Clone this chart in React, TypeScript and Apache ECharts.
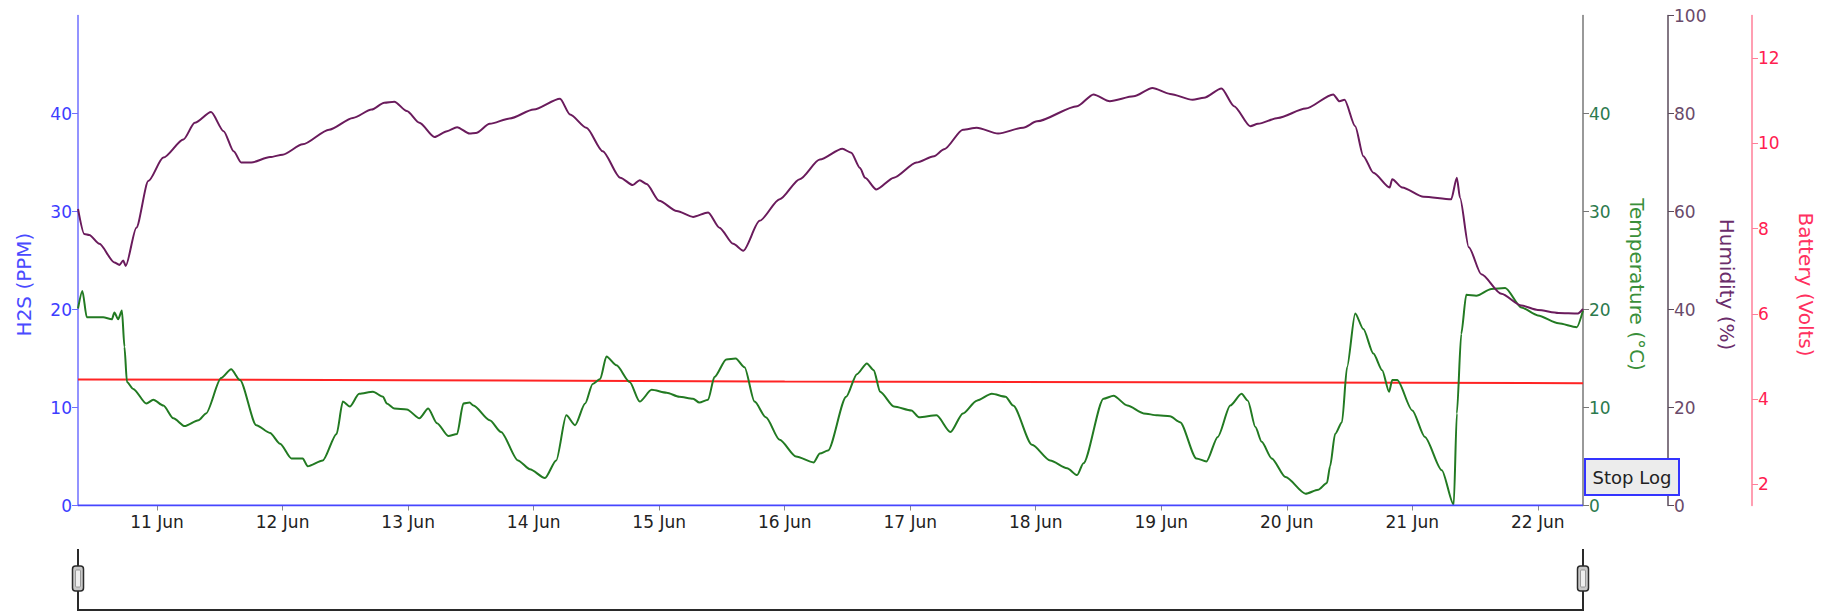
import React, { useEffect, useRef } from "react";
import * as echarts from "echarts";

// Day-of-June ticks on the time axis
const dayTicks = [11, 12, 13, 14, 15, 16, 17, 18, 19, 20, 21, 22];
const batteryTicks = [2, 4, 6, 8, 10, 12];

// [day of June (fractional), value]
const humidity: [number, number][] = [
  [10.37, 60.5], [10.42, 55.4], [10.46, 55.2], [10.54, 53.4], [10.66, 49.6], [10.7, 49.1],
  [10.73, 50.0], [10.75, 48.9], [10.835, 56.7], [10.93, 66.2], [11.05, 71.0], [11.21, 74.7],
  [11.3, 78.1], [11.43, 80.3], [11.53, 76.4], [11.61, 72.3], [11.67, 70.0], [11.75, 70.0],
  [11.9, 71.1], [12.0, 71.6], [12.16, 73.7], [12.37, 76.7], [12.56, 79.1], [12.71, 80.8],
  [12.81, 82.2], [12.89, 82.4], [12.99, 80.5], [13.09, 78.1], [13.21, 75.2], [13.31, 76.4],
  [13.39, 77.2], [13.49, 75.9], [13.54, 76.0], [13.65, 77.9], [13.81, 79.0], [14.0, 80.8],
  [14.21, 83.0], [14.29, 79.8], [14.42, 77.1], [14.55, 72.3], [14.69, 66.9], [14.79, 65.4],
  [14.845, 66.4], [14.9, 65.6], [15.0, 62.2], [15.14, 60.1], [15.27, 58.9], [15.39, 59.8],
  [15.48, 56.7], [15.59, 53.4], [15.67, 52.0], [15.8, 58.1], [15.96, 62.5], [16.12, 66.6],
  [16.28, 70.6], [16.46, 72.8], [16.53, 72.0], [16.6, 68.9], [16.64, 66.9], [16.73, 64.5],
  [16.87, 66.9], [17.05, 70.0], [17.19, 71.3], [17.27, 72.7], [17.42, 76.7], [17.53, 77.1],
  [17.7, 75.9], [17.9, 77.1], [18.01, 78.4], [18.33, 81.5], [18.46, 83.9], [18.59, 82.5],
  [18.78, 83.5], [18.93, 85.2], [19.07, 84.0], [19.25, 82.8], [19.34, 83.2], [19.48, 85.1],
  [19.58, 81.5], [19.71, 77.4], [19.77, 77.9], [19.93, 79.1], [20.15, 81.0], [20.37, 83.9],
  [20.42, 82.5], [20.46, 82.8], [20.545, 77.4], [20.61, 71.3], [20.69, 67.9], [20.82, 64.9],
  [20.84, 66.6], [20.92, 64.9], [21.09, 63.0], [21.31, 62.5], [21.355, 66.9], [21.38, 62.8],
  [21.45, 52.7], [21.55, 47.2], [21.71, 43.2], [21.87, 40.8], [22.0, 39.9], [22.165, 39.3],
  [22.32, 39.2], [22.36, 40.1],
];

const temperature: [number, number][] = [
  [10.37, 20.1], [10.405, 21.9], [10.44, 19.2], [10.5, 19.2], [10.57, 19.2], [10.64, 19.0],
  [10.66, 19.7], [10.69, 19.0], [10.72, 19.9], [10.74, 16.2], [10.76, 12.6], [10.81, 11.9],
  [10.915, 10.4], [10.97, 10.8], [11.05, 10.2], [11.13, 8.9], [11.22, 8.1], [11.33, 8.7],
  [11.39, 9.4], [11.51, 13.0], [11.59, 13.9], [11.66, 12.8], [11.79, 8.2], [11.9, 7.4],
  [11.98, 6.3], [12.07, 4.8], [12.16, 4.8], [12.2, 4.0], [12.32, 4.6], [12.43, 7.3],
  [12.48, 10.6], [12.535, 10.1], [12.61, 11.4], [12.72, 11.6], [12.8, 11.1], [12.83, 10.4],
  [12.89, 9.9], [12.99, 9.8], [13.09, 8.9], [13.16, 9.9], [13.23, 8.4], [13.32, 7.1],
  [13.39, 7.3], [13.44, 10.4], [13.49, 10.5], [13.52, 10.2], [13.65, 8.7], [13.74, 7.5],
  [13.875, 4.6], [13.97, 3.7], [14.09, 2.8], [14.18, 4.6], [14.26, 9.2], [14.33, 8.2],
  [14.41, 10.4], [14.47, 12.4], [14.53, 12.9], [14.58, 15.2], [14.66, 14.3], [14.765, 12.6],
  [14.845, 10.6], [14.94, 11.8], [15.06, 11.5], [15.16, 11.1], [15.27, 10.9], [15.32, 10.5],
  [15.39, 10.8], [15.44, 13.1], [15.535, 14.9], [15.61, 15.0], [15.68, 14.1], [15.76, 10.6],
  [15.85, 9.0], [15.96, 6.7], [16.09, 5.0], [16.23, 4.4], [16.28, 5.3], [16.345, 5.6],
  [16.49, 11.1], [16.575, 13.4], [16.655, 14.5], [16.71, 13.8], [16.76, 11.6], [16.87, 10.1],
  [17.01, 9.7], [17.07, 9.0], [17.21, 9.2], [17.32, 7.5], [17.42, 9.4], [17.53, 10.7],
  [17.65, 11.4], [17.76, 11.1], [17.82, 10.2], [17.97, 6.2], [18.115, 4.6], [18.25, 3.8],
  [18.33, 3.1], [18.38, 4.3], [18.54, 10.9], [18.62, 11.2], [18.73, 10.2], [18.86, 9.4],
  [18.97, 9.2], [19.07, 9.1], [19.15, 8.5], [19.28, 4.8], [19.36, 4.5], [19.45, 7.0],
  [19.55, 10.2], [19.64, 11.4], [19.69, 10.7], [19.75, 8.0], [19.8, 6.5], [19.88, 4.8],
  [19.99, 2.9], [20.15, 1.2], [20.25, 1.6], [20.32, 2.3], [20.345, 4.0], [20.385, 7.3],
  [20.44, 8.5], [20.48, 14.1], [20.545, 19.6], [20.61, 18.0], [20.69, 15.5], [20.76, 13.8],
  [20.815, 11.6], [20.84, 12.8], [20.88, 12.8], [21.0, 9.7], [21.1, 7.0], [21.235, 3.6],
  [21.33, 0.05], [21.355, 9.4], [21.39, 17.5], [21.43, 21.5], [21.51, 21.4], [21.63, 22.1],
  [21.74, 22.2], [21.87, 20.2], [22.0, 19.4], [22.165, 18.6], [22.31, 18.2], [22.36, 19.9],
];

const battery: [number, number][] = [
  [10.37, 4.46], [13.0, 4.44], [16.0, 4.41], [19.0, 4.39], [21.0, 4.38], [22.36, 4.37],
];

const h2s: [number, number][] = [
  [10.37, 0], [22.36, 0],
];

const FONT = "DejaVu Sans";

function handle(x: number) {
  return [
    { type: "line", shape: { x1: x, y1: 549, x2: x, y2: 610 }, style: { stroke: "#2a2a2a", lineWidth: 2 } },
    { type: "rect", shape: { x: x - 5.5, y: 566, width: 11, height: 25, r: 3 }, style: { fill: "#c8c8c8", stroke: "#2a2a2a", lineWidth: 1.5 } },
    { type: "rect", shape: { x: x - 2.5, y: 570, width: 5, height: 17, r: 1 }, style: { fill: "#eeeeee", stroke: "#888", lineWidth: 0.8 } },
  ];
}

export default function App() {
  const ref = useRef<HTMLDivElement>(null);
  useEffect(() => {
    document.body.style.margin = "0";
    const chart = echarts.init(ref.current!, null, { renderer: "svg" });
    const nameStyle = (color: string, padLeft: number, padRight: number) => ({
      color,
      fontSize: 20,
      fontFamily: FONT,
      padding: [0, padRight, 0, padLeft],
    });
    const option: any = {
      animation: false,
      backgroundColor: "#ffffff",
      grid: { left: 78, right: 249, top: 15.5, bottom: 106.5, containLabel: false },
      xAxis: {
        type: "value",
        min: 10.37,
        max: 22.36,
        axisLine: { show: true, onZero: false, lineStyle: { color: "#888", width: 1 } },
        axisTick: { show: true, length: 5, customValues: dayTicks, lineStyle: { color: "#888" } },
        axisLabel: {
          customValues: dayTicks,
          formatter: (v: number) => `${Math.round(v)} Jun`,
          color: "#222",
          fontSize: 17,
          fontFamily: FONT,
          margin: 8,
        },
        splitLine: { show: false },
      },
      yAxis: [
        {
          type: "value",
          position: "left",
          min: 0,
          max: 50,
          interval: 10,
          name: "H2S (PPM)",
          nameLocation: "middle",
          nameGap: 44,
          nameTextStyle: nameStyle("#4a4aff", 0, 48),
          axisLine: { show: true, lineStyle: { color: "#6f6fff", width: 1.5 } },
          axisTick: { show: true, length: 6, lineStyle: { color: "#6f6fff" } },
          axisLabel: { color: "#3d3dff", fontSize: 17, fontFamily: FONT, showMaxLabel: false, margin: 6 },
          splitLine: { show: false },
        },
        {
          type: "value",
          position: "right",
          offset: 0,
          min: 0,
          max: 50,
          interval: 10,
          name: "Temperature (°C)",
          nameLocation: "middle",
          nameRotate: -90,
          nameGap: 44,
          nameTextStyle: nameStyle("#3a8f3a", 48, 0),
          axisLine: { show: true, lineStyle: { color: "#777", width: 1.5 } },
          axisTick: { show: true, length: 6, lineStyle: { color: "#777" } },
          axisLabel: { color: "#2c7a4e", fontSize: 17, fontFamily: FONT, showMaxLabel: false, margin: 6 },
          splitLine: { show: false },
        },
        {
          type: "value",
          position: "right",
          offset: 85,
          min: 0,
          max: 100,
          interval: 20,
          name: "Humidity (%)",
          nameLocation: "middle",
          nameRotate: -90,
          nameGap: 44,
          nameTextStyle: nameStyle("#6b2d6b", 48, 0),
          axisLine: { show: true, lineStyle: { color: "#5a4a5a", width: 1.5 } },
          axisTick: { show: true, length: 6, lineStyle: { color: "#5a4a5a" } },
          axisLabel: { color: "#6a4a6a", fontSize: 17, fontFamily: FONT, margin: 6 },
          splitLine: { show: false },
        },
        {
          type: "value",
          position: "right",
          offset: 169,
          min: 1.5,
          max: 13,
          name: "Battery (Volts)",
          nameLocation: "middle",
          nameRotate: -90,
          nameGap: 44,
          nameTextStyle: nameStyle("#ff3060", 48, 0),
          axisLine: { show: true, lineStyle: { color: "#ff7f99", width: 1.5 } },
          axisTick: { show: true, length: 6, customValues: batteryTicks, lineStyle: { color: "#ff7f99" } },
          axisLabel: { customValues: batteryTicks, color: "#ff2050", fontSize: 17, fontFamily: FONT, margin: 6 },
          splitLine: { show: false },
        },
      ],
      series: [
        {
          name: "Battery",
          type: "line",
          yAxisIndex: 3,
          data: battery,
          showSymbol: false,
          lineStyle: { color: "#ff2424", width: 2 },
        },
        {
          name: "Temperature",
          type: "line",
          yAxisIndex: 1,
          data: temperature,
          showSymbol: false,
          smooth: 0.25,
          smoothMonotone: "x",
          lineStyle: { color: "#227a22", width: 2 },
        },
        {
          name: "Humidity",
          type: "line",
          yAxisIndex: 2,
          data: humidity,
          showSymbol: false,
          smooth: 0.25,
          smoothMonotone: "x",
          lineStyle: { color: "#6a1b5c", width: 2 },
        },
        {
          name: "H2S",
          type: "line",
          yAxisIndex: 0,
          data: h2s,
          showSymbol: false,
          lineStyle: { color: "#4646ff", width: 2 },
        },
      ],
      graphic: [
        { type: "line", shape: { x1: 77, y1: 610, x2: 1584, y2: 610 }, style: { stroke: "#2a2a2a", lineWidth: 2 } },
        ...handle(78),
        ...handle(1583),
        {
          type: "rect",
          z: 100,
          shape: { x: 1585, y: 459, width: 94, height: 36 },
          style: { fill: "#ececec", stroke: "#3434ff", lineWidth: 2 },
        },
        {
          type: "text",
          z: 101,
          x: 1632,
          y: 477,
          style: {
            text: "Stop Log",
            fill: "#222",
            font: `18px '${FONT}'`,
            align: "center",
            verticalAlign: "middle",
          },
        },
      ],
    };
    chart.setOption(option);
    return () => chart.dispose();
  }, []);
  return <div ref={ref} style={{ position: "absolute", left: 0, top: 0, width: 1832, height: 612 }} />;
}
